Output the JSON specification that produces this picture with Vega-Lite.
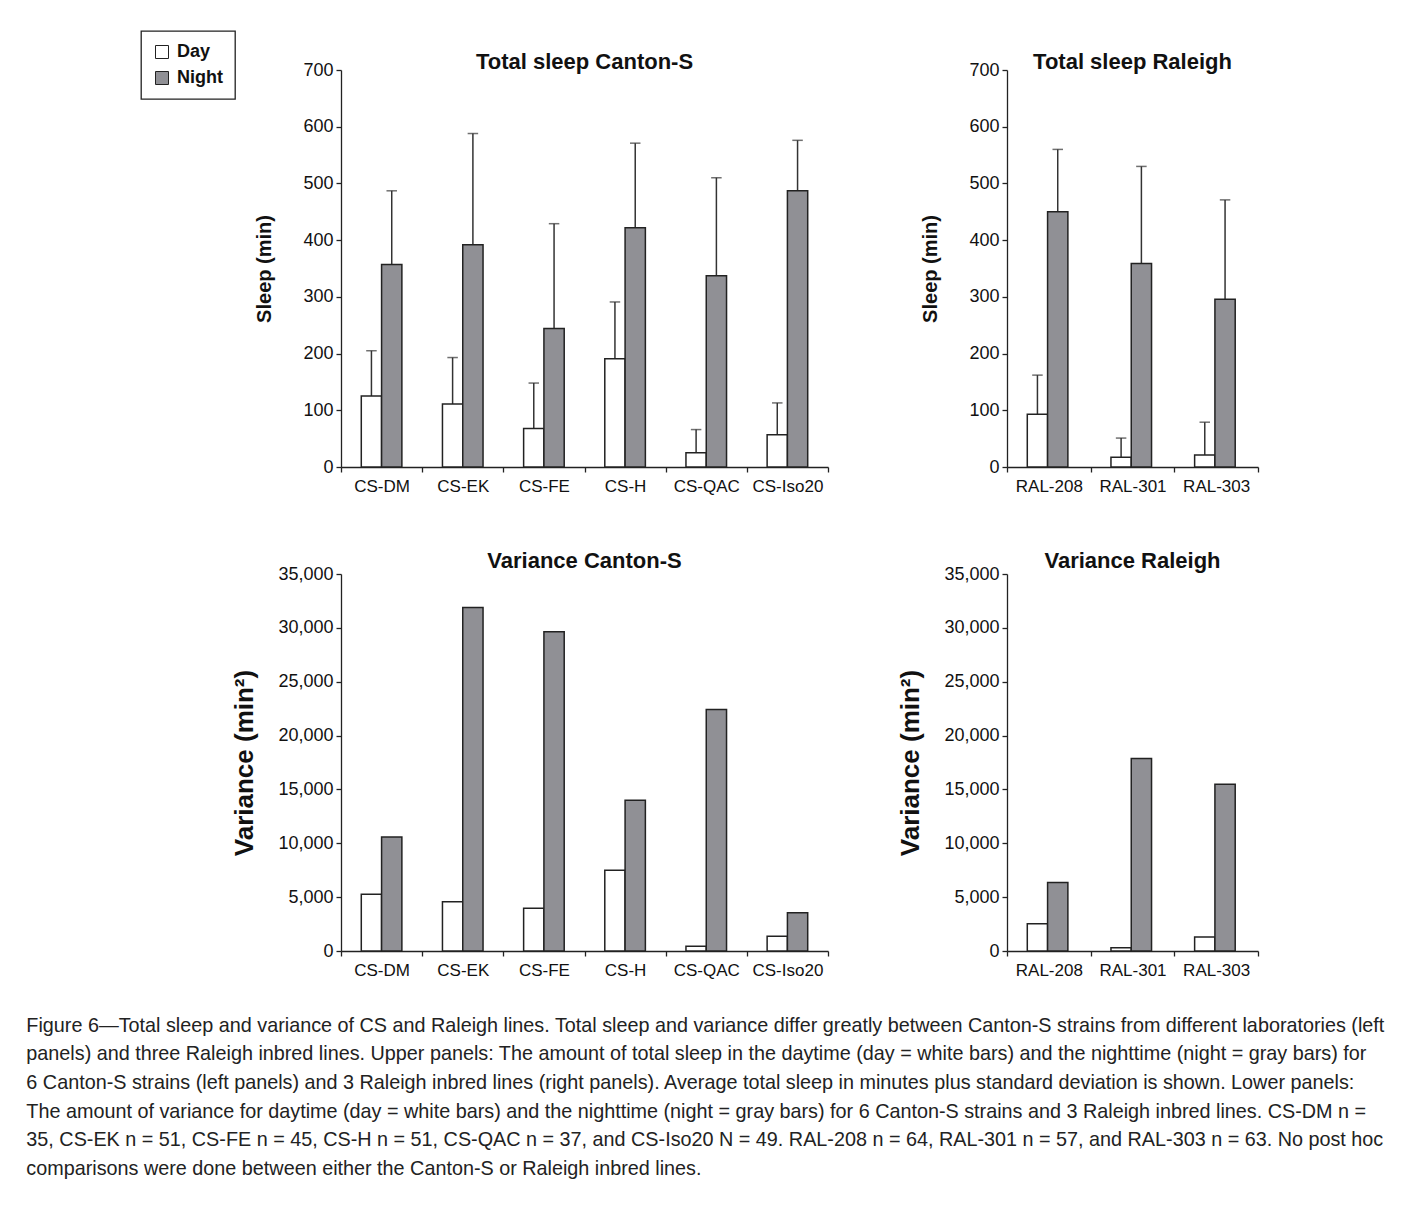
{
  "$schema": "https://vega.github.io/schema/vega-lite/v6.json",
  "background": "white",
  "padding": {"left": 26, "top": 30, "right": 0, "bottom": 5},
  "datasets": {
    "sleep": [
      {"group": "Canton", "strain": "CS-DM", "period": "Day", "mean": 125, "upper": 205},
      {"group": "Canton", "strain": "CS-DM", "period": "Night", "mean": 357, "upper": 487},
      {"group": "Canton", "strain": "CS-EK", "period": "Day", "mean": 111, "upper": 193},
      {"group": "Canton", "strain": "CS-EK", "period": "Night", "mean": 392, "upper": 588},
      {"group": "Canton", "strain": "CS-FE", "period": "Day", "mean": 68, "upper": 148},
      {"group": "Canton", "strain": "CS-FE", "period": "Night", "mean": 244, "upper": 429},
      {"group": "Canton", "strain": "CS-H", "period": "Day", "mean": 191, "upper": 291},
      {"group": "Canton", "strain": "CS-H", "period": "Night", "mean": 422, "upper": 571},
      {"group": "Canton", "strain": "CS-QAC", "period": "Day", "mean": 25, "upper": 66},
      {"group": "Canton", "strain": "CS-QAC", "period": "Night", "mean": 337, "upper": 510},
      {"group": "Canton", "strain": "CS-Iso20", "period": "Day", "mean": 57, "upper": 113},
      {"group": "Canton", "strain": "CS-Iso20", "period": "Night", "mean": 487, "upper": 576},
      {"group": "Raleigh", "strain": "RAL-208", "period": "Day", "mean": 93, "upper": 162},
      {"group": "Raleigh", "strain": "RAL-208", "period": "Night", "mean": 450, "upper": 560},
      {"group": "Raleigh", "strain": "RAL-301", "period": "Day", "mean": 17, "upper": 51},
      {"group": "Raleigh", "strain": "RAL-301", "period": "Night", "mean": 359, "upper": 530},
      {"group": "Raleigh", "strain": "RAL-303", "period": "Day", "mean": 21, "upper": 79},
      {"group": "Raleigh", "strain": "RAL-303", "period": "Night", "mean": 296, "upper": 471}
    ],
    "variance": [
      {"group": "Canton", "strain": "CS-DM", "period": "Day", "variance": 5270},
      {"group": "Canton", "strain": "CS-DM", "period": "Night", "variance": 10590},
      {"group": "Canton", "strain": "CS-EK", "period": "Day", "variance": 4580},
      {"group": "Canton", "strain": "CS-EK", "period": "Night", "variance": 31900},
      {"group": "Canton", "strain": "CS-FE", "period": "Day", "variance": 3970},
      {"group": "Canton", "strain": "CS-FE", "period": "Night", "variance": 29650},
      {"group": "Canton", "strain": "CS-H", "period": "Day", "variance": 7500},
      {"group": "Canton", "strain": "CS-H", "period": "Night", "variance": 14000},
      {"group": "Canton", "strain": "CS-QAC", "period": "Day", "variance": 440},
      {"group": "Canton", "strain": "CS-QAC", "period": "Night", "variance": 22430},
      {"group": "Canton", "strain": "CS-Iso20", "period": "Day", "variance": 1360},
      {"group": "Canton", "strain": "CS-Iso20", "period": "Night", "variance": 3560},
      {"group": "Raleigh", "strain": "RAL-208", "period": "Day", "variance": 2540},
      {"group": "Raleigh", "strain": "RAL-208", "period": "Night", "variance": 6350},
      {"group": "Raleigh", "strain": "RAL-301", "period": "Day", "variance": 310},
      {"group": "Raleigh", "strain": "RAL-301", "period": "Night", "variance": 17870},
      {"group": "Raleigh", "strain": "RAL-303", "period": "Day", "variance": 1300},
      {"group": "Raleigh", "strain": "RAL-303", "period": "Night", "variance": 15490}
    ]
  },
  "title": {
    "text": [
      "Figure 6—Total sleep and variance of CS and Raleigh lines. Total sleep and variance differ greatly between Canton-S strains from different laboratories (left",
      "panels) and three Raleigh inbred lines. Upper panels: The amount of total sleep in the daytime (day = white bars) and the nighttime (night = gray bars) for",
      "6 Canton-S strains (left panels) and 3 Raleigh inbred lines (right panels). Average total sleep in minutes plus standard deviation is shown. Lower panels:",
      "The amount of variance for daytime (day = white bars) and the nighttime (night = gray bars) for 6 Canton-S strains and 3 Raleigh inbred lines. CS-DM n =",
      "35, CS-EK n = 51, CS-FE n = 45, CS-H n = 51, CS-QAC n = 37, and CS-Iso20 N = 49. RAL-208 n = 64, RAL-301 n = 57, and RAL-303 n = 63. No post hoc",
      "comparisons were done between either the Canton-S or Raleigh inbred lines."
    ],
    "orient": "bottom",
    "anchor": "start",
    "font": "Liberation Sans",
    "fontSize": 19.8,
    "fontWeight": "normal",
    "color": "#222",
    "lineHeight": 28.7,
    "offset": 37.5,
    "dx": -114
  },
  "columns": 2,
  "bounds": "flush",
  "spacing": {"row": 107, "column": 179},
  "concat": [
    {
      "title": {"text": "Total sleep Canton-S", "offset": -13},
      "width": 487,
      "height": 397,
      "data": {"name": "sleep"},
      "transform": [{"filter": "datum.group === 'Canton'"}],
      "encoding": {
        "x": {"field": "strain", "type": "nominal", "sort": null, "title": null, "scale": {"paddingInner": 0, "paddingOuter": 0}},
        "xOffset": {"field": "period", "type": "nominal", "sort": ["Day", "Night"], "scale": {"paddingInner": 0, "paddingOuter": 1.19}}
      },
      "layer": [
        {
          "mark": {"type": "rule", "color": "#333", "strokeWidth": 1.5},
          "encoding": {"y": {"field": "mean", "type": "quantitative"}, "y2": {"field": "upper"}}
        },
        {
          "mark": {"type": "tick", "color": "#333", "thickness": 1.5, "size": 10.5},
          "encoding": {"y": {"field": "upper", "type": "quantitative"}}
        },
        {
          "mark": {"type": "bar", "stroke": "#222", "strokeWidth": 1.5},
          "encoding": {
            "y": {"field": "mean", "type": "quantitative", "title": "Sleep (min)", "scale": {"domain": [0, 700]}, "axis": {"values": [0, 100, 200, 300, 400, 500, 600, 700], "titlePadding": 28, "titleFontSize": 20}},
            "fill": {"field": "period", "type": "nominal", "scale": {"domain": ["Day", "Night"], "range": ["white", "#909095"]}, "legend": {"orient": "none", "legendX": -200, "legendY": -39, "title": null}}
          }
        }
      ]
    },
    {
      "title": {"text": "Total sleep Raleigh", "offset": -13},
      "width": 251,
      "height": 397,
      "data": {"name": "sleep"},
      "transform": [{"filter": "datum.group === 'Raleigh'"}],
      "encoding": {
        "x": {"field": "strain", "type": "nominal", "sort": null, "title": null, "scale": {"paddingInner": 0, "paddingOuter": 0}},
        "xOffset": {"field": "period", "type": "nominal", "sort": ["Day", "Night"], "scale": {"paddingInner": 0, "paddingOuter": 1.19}}
      },
      "layer": [
        {
          "mark": {"type": "rule", "color": "#333", "strokeWidth": 1.5},
          "encoding": {"y": {"field": "mean", "type": "quantitative"}, "y2": {"field": "upper"}}
        },
        {
          "mark": {"type": "tick", "color": "#333", "thickness": 1.5, "size": 10.5},
          "encoding": {"y": {"field": "upper", "type": "quantitative"}}
        },
        {
          "mark": {"type": "bar", "stroke": "#222", "strokeWidth": 1.5},
          "encoding": {
            "y": {"field": "mean", "type": "quantitative", "title": "Sleep (min)", "scale": {"domain": [0, 700]}, "axis": {"values": [0, 100, 200, 300, 400, 500, 600, 700], "titlePadding": 28, "titleFontSize": 20}},
            "fill": {"field": "period", "type": "nominal", "scale": {"domain": ["Day", "Night"], "range": ["white", "#909095"]}, "legend": {"orient": "none", "legendX": -200, "legendY": -39, "title": null}}
          }
        }
      ]
    },
    {
      "title": {"text": "Variance Canton-S", "offset": -8},
      "width": 487,
      "height": 377,
      "data": {"name": "variance"},
      "transform": [{"filter": "datum.group === 'Canton'"}],
      "mark": {"type": "bar", "stroke": "#222", "strokeWidth": 1.5},
      "encoding": {
        "x": {"field": "strain", "type": "nominal", "sort": null, "title": null, "scale": {"paddingInner": 0, "paddingOuter": 0}},
        "xOffset": {"field": "period", "type": "nominal", "sort": ["Day", "Night"], "scale": {"paddingInner": 0, "paddingOuter": 1.19}},
        "y": {"field": "variance", "type": "quantitative", "title": "Variance (min²)", "scale": {"domain": [0, 35000]}, "axis": {"values": [0, 5000, 10000, 15000, 20000, 25000, 30000, 35000], "format": ",.0f", "titlePadding": 20, "titleFontSize": 26}},
        "fill": {"field": "period", "type": "nominal", "scale": {"domain": ["Day", "Night"], "range": ["white", "#909095"]}, "legend": {"orient": "none", "legendX": -200, "legendY": -39, "title": null}}
      }
    },
    {
      "title": {"text": "Variance Raleigh", "offset": -8},
      "width": 251,
      "height": 377,
      "data": {"name": "variance"},
      "transform": [{"filter": "datum.group === 'Raleigh'"}],
      "mark": {"type": "bar", "stroke": "#222", "strokeWidth": 1.5},
      "encoding": {
        "x": {"field": "strain", "type": "nominal", "sort": null, "title": null, "scale": {"paddingInner": 0, "paddingOuter": 0}},
        "xOffset": {"field": "period", "type": "nominal", "sort": ["Day", "Night"], "scale": {"paddingInner": 0, "paddingOuter": 1.19}},
        "y": {"field": "variance", "type": "quantitative", "title": "Variance (min²)", "scale": {"domain": [0, 35000]}, "axis": {"values": [0, 5000, 10000, 15000, 20000, 25000, 30000, 35000], "format": ",.0f", "titlePadding": 20, "titleFontSize": 26}},
        "fill": {"field": "period", "type": "nominal", "scale": {"domain": ["Day", "Night"], "range": ["white", "#909095"]}, "legend": {"orient": "none", "legendX": -200, "legendY": -39, "title": null}}
      }
    }
  ],
  "config": {
    "font": "Liberation Sans",
    "view": {"stroke": null},
    "axis": {
      "grid": false,
      "domainColor": "#222",
      "domainWidth": 1.3,
      "tickColor": "#222",
      "tickWidth": 1.3,
      "tickSize": 5,
      "labelColor": "#111",
      "labelFont": "Liberation Sans",
      "labelFontSize": 18,
      "labelPadding": 3,
      "titleFont": "Liberation Sans",
      "titleFontSize": 22,
      "titleFontWeight": "bold",
      "titleColor": "#111"
    },
    "axisX": {"labelAngle": 0, "tickBand": "extent", "labelPadding": 6, "labelFontSize": 17},
    "title": {"font": "Liberation Sans", "fontSize": 22, "fontWeight": "bold", "color": "#111"},
    "legend": {
      "strokeColor": "#222",
      "strokeWidth": 1.3,
      "padding": 12,
      "symbolType": "square",
      "symbolSize": 169,
      "symbolStrokeColor": "#222",
      "symbolStrokeWidth": 1,
      "labelFont": "Liberation Sans",
      "labelFontSize": 18,
      "labelFontWeight": "bold",
      "labelColor": "#111",
      "labelOffset": 6,
      "rowPadding": 8
    }
  }
}
